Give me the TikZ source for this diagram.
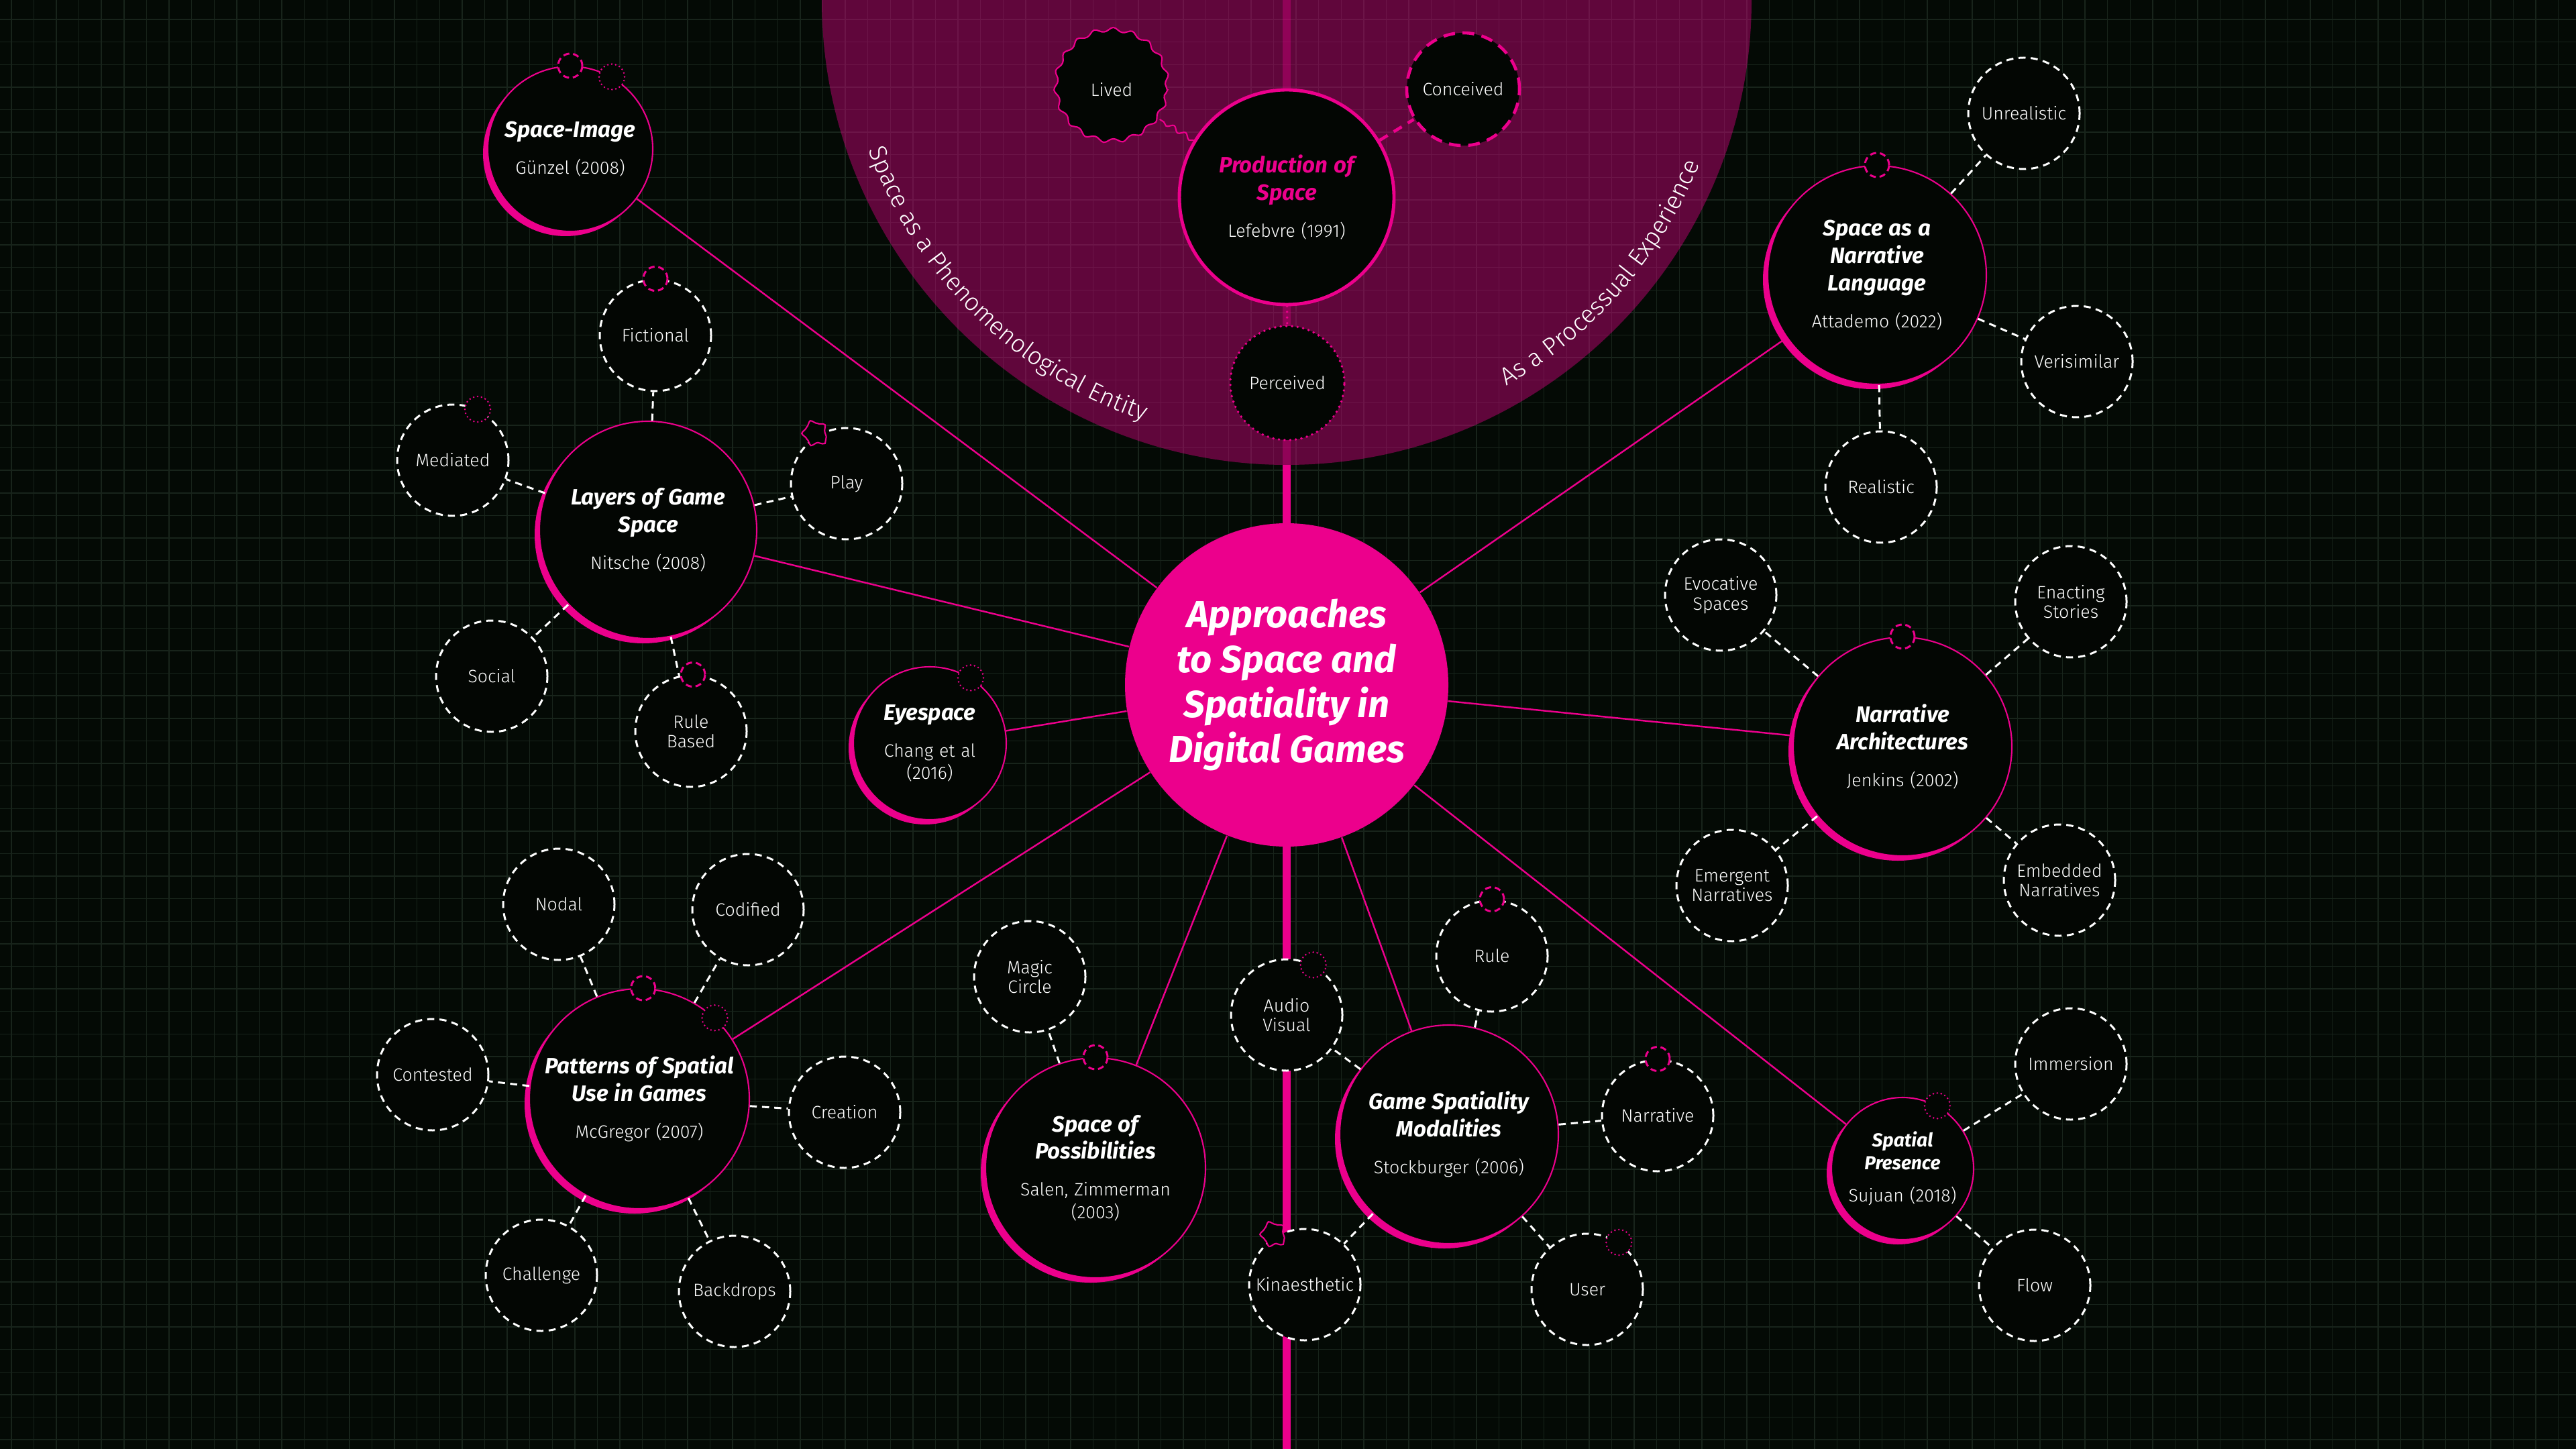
\documentclass[tikz,border=0pt]{standalone}
\usepackage{fontspec}
\setmainfont{Fira Sans}[UprightFont=* Light, ItalicFont=* Light Italic, BoldFont=* Bold, BoldItalicFont=* Bold Italic]
\usepackage{tikz}
\usetikzlibrary{shadows,decorations.pathmorphing,decorations.text,backgrounds,calc}
\usepackage{xcolor}
\definecolor{pinkc}{HTML}{EC008C}
\definecolor{inkc}{HTML}{030603}
\definecolor{bgc}{HTML}{040A05}
\definecolor{gridc}{HTML}{18241B}
\newcommand\ttl[1]{{\bfseries\itshape\fontsize{9.4}{11.6}\selectfont #1\par}}
\newcommand\yr[1]{{\fontsize{7.6}{9.6}\selectfont #1\par}}

\begin{document}
\begin{tikzpicture}[every node/.style={font=\fontsize{7.6}{8.4}\selectfont,text=white}]
\tikzstyle{hub}=[circle,draw=pinkc,line width=0.6pt,fill=inkc,inner sep=0pt,align=center,drop shadow={shadow xshift=-0.07cm,shadow yshift=-0.07cm,fill=pinkc,opacity=1}]
\tikzstyle{sat}=[circle,draw=white,line width=0.85pt,dash pattern=on 3pt off 2.2pt,fill=inkc,minimum size=1.66cm,inner sep=0pt,align=center]
\tikzstyle{pipdash}=[circle,draw=pinkc,fill=inkc,line width=0.85pt,dash pattern=on 2.6pt off 1.6pt,minimum size=0.36cm,inner sep=0pt]
\tikzstyle{pipdot}=[circle,draw=pinkc,fill=inkc,line width=0.8pt,dash pattern=on 0pt off 1.7pt,line cap=round,minimum size=0.38cm,inner sep=0pt]
\tikzstyle{pipwave}=[circle,draw=pinkc,fill=inkc,line width=0.6pt,minimum size=0.34cm,inner sep=0pt,decorate,decoration={snake,segment length=2.1mm,amplitude=0.22mm}]
\tikzstyle{spoke}=[draw=pinkc,line width=0.7pt]
\tikzstyle{tie}=[draw=white,line width=0.85pt,dash pattern=on 3pt off 2.2pt]
\tikzstyle{gridln}=[draw=gridc,line width=0.4pt]
\tikzstyle{arclabel}=[decorate,decoration={text along path,text align=center,text color=white}]

\useasboundingbox (0,0) rectangle (38.4,-21.6);
\coordinate (apex) at (19.18,0);
\coordinate (rim) at (19.18,-6.93);
\coordinate (foot) at (19.18,-21.6);

\node[circle,fill=pinkc,minimum size=4.82cm,inner sep=0pt,align=center,font=\bfseries\itshape\fontsize{16}{19}\selectfont] (core) at (19.18,-10.21) {Approaches\\to Space and\\Spatiality in\\Digital Games};

\node[circle,draw=pinkc,line width=1.4pt,fill=inkc,minimum size=3.2cm,inner sep=0pt,text width=2.6cm,align=center] (prod) at (19.18,-2.94) {{\color{pinkc}\ttl{Production of\\Space}}\vspace{6pt}\yr{Lefebvre (1991)}};
\node[circle,draw=pinkc,line width=0.6pt,fill=inkc,minimum size=1.66cm,decorate,decoration={snake,segment length=2.8mm,amplitude=0.3mm}] (lived) at (16.57,-1.34) {Lived};
\node[circle,draw=pinkc,line width=1.3pt,dash pattern=on 5pt off 3.2pt,fill=inkc,minimum size=1.68cm] (conc) at (21.81,-1.33) {Conceived};
\node[circle,draw=pinkc,line width=1.1pt,dash pattern=on 0pt off 2.4pt,line cap=round,fill=inkc,minimum size=1.7cm] (perc) at (19.19,-5.71) {Perceived};

\node[hub,minimum size=2.46cm,text width=2.1cm] (spimg) at (8.50,-2.22) {\ttl{Space-Image}\vspace{6pt}\yr{Günzel (2008)}};
\node[hub,minimum size=3.24cm,text width=2.7cm] (layers) at (9.66,-7.90) {\ttl{Layers of Game\\Space}\vspace{6pt}\yr{Nitsche (2008)}};
\node[hub,minimum size=2.28cm,text width=1.9cm] (eyes) at (13.86,-11.08) {\ttl{Eyespace}\vspace{6pt}\yr{Chang et al\\(2016)}};
\node[hub,minimum size=3.28cm,text width=3.0cm] (patt) at (9.53,-16.38) {\ttl{Patterns of Spatial\\Use in Games}\vspace{6pt}\yr{McGregor (2007)}};
\node[hub,minimum size=3.28cm,text width=2.8cm] (sposs) at (16.33,-17.41) {\ttl{Space of\\Possibilities}\vspace{6pt}\yr{Salen, Zimmerman\\(2003)}};
\node[hub,minimum size=3.26cm,text width=2.8cm] (gsm) at (21.60,-16.91) {\ttl{Game Spatiality\\Modalities}\vspace{6pt}\yr{Stockburger (2006)}};
\node[hub,minimum size=3.26cm,text width=2.3cm] (snl) at (27.98,-4.10) {\ttl{Space as a\\Narrative\\Language}\vspace{6pt}\yr{Attademo (2022)}};
\node[hub,minimum size=3.26cm,text width=2.7cm] (narch) at (28.36,-11.13) {\ttl{Narrative\\Architectures}\vspace{6pt}\yr{Jenkins (2002)}};
\node[hub,minimum size=2.12cm,text width=1.8cm] (spres) at (28.36,-17.42) {{\bfseries\itshape\fontsize{8}{9.6}\selectfont Spatial\\Presence\par}\vspace{4pt}\yr{Sujuan (2018)}};

\node[sat] (fict) at (9.77,-5.00) {Fictional};
\node[sat] (medi) at (6.75,-6.86) {Mediated};
\node[sat] (play) at (12.62,-7.21) {Play};
\node[sat] (social) at (7.33,-10.08) {Social};
\node[sat] (rbased) at (10.30,-10.90) {Rule\\Based};
\node[sat] (nodal) at (8.33,-13.48) {Nodal};
\node[sat] (codif) at (11.15,-13.56) {Codified};
\node[sat] (contest) at (6.45,-16.02) {Contested};
\node[sat] (creat) at (12.59,-16.58) {Creation};
\node[sat] (chall) at (8.07,-19.01) {Challenge};
\node[sat] (backd) at (10.95,-19.25) {Backdrops};
\node[sat] (magic) at (15.35,-14.56) {Magic\\Circle};
\node[sat] (audio) at (19.18,-15.13) {Audio\\Visual};
\node[sat] (rule) at (22.24,-14.25) {Rule};
\node[sat] (narr) at (24.71,-16.63) {Narrative};
\node[sat] (kinae) at (19.45,-19.15) {Kinaesthetic};
\node[sat] (user) at (23.66,-19.22) {User};
\node[sat] (unreal) at (30.17,-1.69) {Unrealistic};
\node[sat] (verisim) at (30.96,-5.39) {Verisimilar};
\node[sat] (realist) at (28.04,-7.26) {Realistic};
\node[sat] (evoc) at (25.65,-8.87) {Evocative\\Spaces};
\node[sat] (enact) at (30.87,-8.97) {Enacting\\Stories};
\node[sat] (emerg) at (25.82,-13.20) {Emergent\\Narratives};
\node[sat] (embed) at (30.70,-13.12) {Embedded\\Narratives};
\node[sat] (immer) at (30.87,-15.86) {Immersion};
\node[sat] (flow) at (30.33,-19.16) {Flow};

\foreach \h in {spimg,layers,eyes,patt,sposs,gsm,snl,narch,spres}
  \draw[spoke] (core) -- (\h);
\foreach \a/\b in {layers/fict,layers/medi,layers/play,layers/social,layers/rbased,patt/nodal,patt/codif,patt/contest,patt/creat,patt/chall,patt/backd,sposs/magic,gsm/audio,gsm/rule,gsm/narr,gsm/kinae,gsm/user,snl/unreal,snl/verisim,snl/realist,narch/evoc,narch/enact,narch/emerg,narch/embed,spres/immer,spres/flow}
  \draw[tie] (\a) -- (\b);
\draw[pinkc,line width=0.6pt,decorate,decoration={snake,segment length=2mm,amplitude=0.35mm}] (prod) -- (lived);
\draw[pinkc,line width=1.3pt,dash pattern=on 4pt off 3pt] (prod) -- (conc);
\draw[pinkc,line width=1.1pt,dash pattern=on 0pt off 2.4pt,line cap=round] (prod) -- (perc);

\node[pipdash] (spimg-a) at (spimg.90) {};
\node[pipdot] (spimg-b) at (spimg.60) {};
\node[pipdash] (fict-a) at (fict.90) {};
\node[pipdot] (medi-a) at (medi.64) {};
\node[pipwave] (play-a) at (play.124) {};
\node[pipdash] (rbased-a) at (rbased.88) {};
\node[pipdot] (eyes-a) at (eyes.58) {};
\node[pipdash] (patt-a) at (patt.88) {};
\node[pipdot] (patt-b) at (patt.47) {};
\node[pipdash] (sposs-a) at (sposs.90) {};
\node[pipdot] (audio-a) at (audio.62) {};
\node[pipdash] (rule-a) at (rule.90) {};
\node[pipdash] (narr-a) at (narr.90) {};
\node[pipwave] (kinae-a) at (kinae.124) {};
\node[pipdot] (user-a) at (user.56) {};
\node[pipdash] (snl-a) at (snl.90) {};
\node[pipdash] (narch-a) at (narch.90) {};
\node[pipdot] (spres-a) at (spres.61) {};

\begin{scope}[on background layer]
\fill[bgc] (0,0) rectangle (38.4,-21.6);
\foreach \i in {0,...,114}
  \draw[gridln] ({0.168+0.336*\i},0) -- ++(0,-21.6);
\foreach \j in {0,...,64}
  \draw[gridln] (0,{-0.292-0.336*\j}) -- ++(38.4,0);
\fill[pinkc,opacity=.4] ([xshift=-6.93cm]apex) arc[start angle=180,end angle=360,radius=6.93cm] -- cycle;
\draw[pinkc,line width=3.5pt,opacity=.35] (apex) -- (rim);
\draw[pinkc,line width=3.5pt] (rim) -- (foot);
\path[arclabel,decoration={text={|\fontsize{10.5}{12}\selectfont|Space as a Phenomenological Entity}}] ([shift={(180:6.62cm)}]apex) arc[start angle=180,end angle=271,radius=6.62cm];
\path[arclabel,decoration={text={|\fontsize{10.5}{12}\selectfont|As a Processual Experience}}] ([shift={(274:6.62cm)}]apex) arc[start angle=274,end angle=364,radius=6.62cm];
\end{scope}
\end{tikzpicture}
\end{document}
